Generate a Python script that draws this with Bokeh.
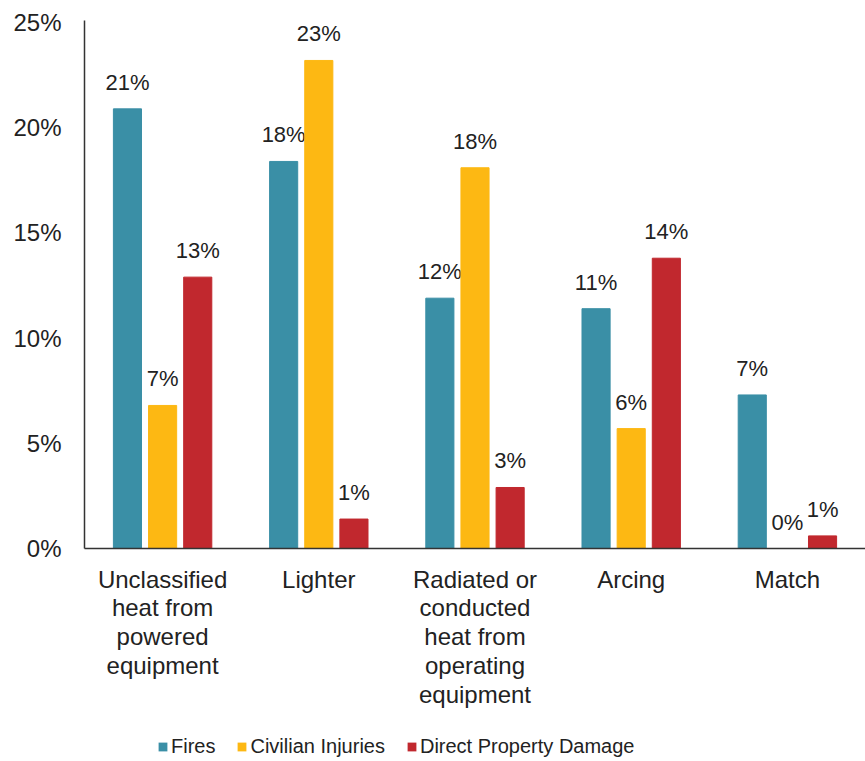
from bokeh.plotting import figure
from bokeh.models import ColumnDataSource, FactorRange, Legend, LegendItem, Range1d, FixedTicker
from bokeh.layouts import column
from bokeh.transform import dodge
from bokeh.embed import file_html
from bokeh.resources import INLINE
from bokeh.core.properties import value

categories = ["Unclassified\nheat from\npowered\nequipment", "Lighter",
              "Radiated or\nconducted\nheat from\noperating\nequipment", "Arcing", "Match"]
fires = [20.9, 18.4, 11.9, 11.4, 7.3]
injuries = [6.8, 23.2, 18.1, 5.7, 0.0]
damage = [12.9, 1.4, 2.9, 13.8, 0.6]
series_names = ["Fires", "Civilian Injuries", "Direct Property Damage"]
series_keys = ["fires", "injuries", "damage"]
colors = ["#3A8FA6", "#FDB813", "#C1282E"]
y_ticks = [0, 5, 10, 15, 20, 25]

FONT = "Liberation Sans"

def lbl(vals):
    return [f"{round(v)}%" for v in vals]

src = ColumnDataSource(dict(cat=categories, fires=fires, injuries=injuries, damage=damage,
                            fires_l=lbl(fires), injuries_l=lbl(injuries), damage_l=lbl(damage)))

p = figure(frame_width=781, frame_height=528, x_range=FactorRange(*categories), y_range=Range1d(0, 25.1),
           output_backend="svg", toolbar_location=None,
           min_border_left=84, min_border_right=0, min_border_top=20, min_border_bottom=165)
p.outline_line_color = None
p.xgrid.visible = False
p.ygrid.visible = False

for key, off, col in zip(series_keys, [-0.225, 0.0, 0.225], colors):
    p.vbar(x=dodge("cat", off, range=p.x_range), top=key, width=0.18, source=src,
           fill_color=col, line_color=col)
    p.text(x=dodge("cat", off, range=p.x_range), y=key, text=key + "_l", source=src,
           text_align="center", text_baseline="bottom", y_offset=-14,
           text_font=value(FONT), text_font_size="22px", text_color="#222222")

p.yaxis.ticker = FixedTicker(ticks=y_ticks)
p.yaxis.major_label_overrides = {t: f"{t}%" for t in y_ticks}
p.yaxis.major_tick_line_color = None
p.yaxis.minor_tick_line_color = None
p.yaxis.major_label_standoff = 17
p.yaxis.axis_line_color = "#333333"
p.yaxis.axis_line_width = 1.5
p.yaxis.major_label_text_font = FONT
p.yaxis.major_label_text_font_size = "24px"
p.yaxis.major_label_text_color = "#222222"

p.xaxis.major_tick_line_color = None
p.xaxis.axis_line_color = "#333333"
p.xaxis.axis_line_width = 1.5
p.xaxis.major_label_standoff = 11
p.xaxis.major_label_text_font = FONT
p.xaxis.major_label_text_font_size = "24px"
p.xaxis.major_label_text_color = "#222222"
p.xaxis.major_label_text_line_height = 1.07

# legend strip below the chart (its bars lie far outside the strip's view, only the legend shows)
pl = figure(width=865, height=48, x_range=FactorRange(*categories), y_range=Range1d(100, 101),
            output_backend="svg", toolbar_location=None,
            min_border_left=0, min_border_right=0, min_border_top=0, min_border_bottom=0)
pl.axis.visible = False
pl.xgrid.visible = False
pl.ygrid.visible = False
pl.outline_line_color = None
legend_renderers = [pl.vbar(x="cat", top=k, width=0.18, source=src, fill_color=c, line_alpha=0)
                    for k, c in zip(series_keys, colors)]

legend = Legend(items=[LegendItem(label=n, renderers=[r]) for n, r in zip(series_names, legend_renderers)],
                orientation="horizontal", location=(73, 3),
                label_text_font=FONT, label_text_font_size="20px", label_text_color="#222222",
                glyph_width=11, glyph_height=11, label_standoff=3, spacing=21,
                border_line_color=None, background_fill_alpha=0, margin=0, padding=0)
pl.add_layout(legend, "center")

open("out.html", "w").write(file_html(column(p, pl, spacing=0), INLINE))
